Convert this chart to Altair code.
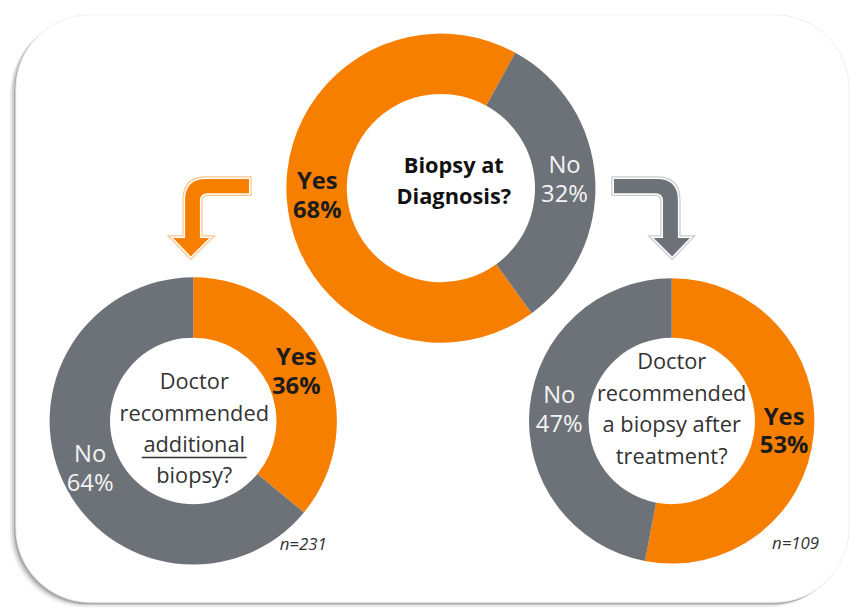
import math
import altair as alt
import pandas as pd

# ---------------- data ----------------
answers = ["Yes", "No"]
top_pct = [68, 32]      # Biopsy at diagnosis?
left_pct = [36, 64]     # Doctor recommended additional biopsy? (n=231)
right_pct = [53, 47]    # Doctor recommended a biopsy after treatment? (n=109)
questions = ["Biopsy at\nDiagnosis?",
             "Doctor\nrecommended\nadditional\nbiopsy?",
             "Doctor\nrecommended\na biopsy after\ntreatment?"]
sample_sizes = ["n=231", "n=109"]

ORANGE = "#F77F00"
GRAY = "#6D7278"
FONT = "Open Sans"

W, H = 851, 600


def one_row(**kw):
    return alt.Data(values=[kw])


def donut(pcts, cx, cy, r_out, r_in, start_deg, label_r):
    df = pd.DataFrame({"answer": answers, "pct": pcts, "ord": [0, 1]})
    df["yes_label"] = [f"{a}\n{p}%" if a == "Yes" else "" for a, p in zip(answers, pcts)]
    df["no_label"] = [f"{a}\n{p}%" if a == "No" else "" for a, p in zip(answers, pcts)]
    start = math.radians(start_deg)
    theta = alt.Theta("pct:Q", stack=True,
                      scale=alt.Scale(range=[start, start + 2 * math.pi]))
    base = alt.Chart(df).encode(theta=theta, order=alt.Order("ord:Q"),
                                x=alt.value(cx), y=alt.value(cy))
    arc = base.mark_arc(outerRadius=r_out, innerRadius=r_in).encode(
        color=alt.Color("answer:N", scale=alt.Scale(domain=answers, range=[ORANGE, GRAY]),
                        legend=None))
    yes = base.mark_text(radius=label_r, font=FONT, fontSize=24, fontWeight="bold",
                         color="#1c1c1c", lineBreak="\n", lineHeight=29, dy=-14).encode(
        text="yes_label:N", detail="answer:N")
    no = base.mark_text(radius=label_r, font=FONT, fontSize=24, fontWeight="normal",
                        color="#f4f4f4", lineBreak="\n", lineHeight=29, dy=-14).encode(
        text="no_label:N", detail="answer:N")
    return alt.layer(arc, yes, no)


# ---------------- background card ----------------
def card(dx, dy, **style):
    return alt.Chart(one_row(a=0)).mark_rect(cornerRadius=75, **style).encode(
        x=alt.value(8 + dx), x2=alt.value(849 + dx),
        y=alt.value(4 + dy), y2=alt.value(597 + dy))


shadow1 = card(-6, 5, fill="#000000", opacity=0.07)
shadow2 = card(-4, 3, fill="#000000", opacity=0.12)
shadow3 = card(-2, 2, fill="#000000", opacity=0.18)
panel = card(0, 0, fill="white", stroke="#eeeeee", strokeWidth=1)

# ---------------- arrows ----------------
ARROW_L = ("M0.952,-0.952 L0.952,-0.571 L-0.059,-0.571 Q-0.226,-0.571 -0.226,-0.404 "
           "L-0.226,0.464 L0.024,0.464 L-0.464,0.952 L-0.929,0.464 L-0.619,0.464 "
           "L-0.619,-0.428 Q-0.619,-0.952 -0.095,-0.952 Z")
ARROW_R = ("M-0.952,-0.952 L-0.952,-0.571 L0.059,-0.571 Q0.226,-0.571 0.226,-0.404 "
           "L0.226,0.464 L-0.024,0.464 L0.464,0.952 L0.929,0.464 L0.619,0.464 "
           "L0.619,-0.428 Q0.619,-0.952 0.095,-0.952 Z")


def arrow(path, cx, cy, fill, outline):
    pos = dict(x=alt.value(cx), y=alt.value(cy))
    outer = alt.Chart(one_row(a=0)).mark_point(
        shape=path, size=7056, filled=True, fill=fill, stroke=outline, strokeWidth=4,
        opacity=1, fillOpacity=1, strokeOpacity=1).encode(**pos)
    inner = alt.Chart(one_row(a=0)).mark_point(
        shape=path, size=7056, filled=True, fill=fill, stroke="white", strokeWidth=1.5,
        opacity=1, fillOpacity=1, strokeOpacity=1).encode(**pos)
    return alt.layer(outer, inner)


arrow_l = arrow(ARROW_L, 204, 209, ORANGE, "#FBC58E")
arrow_r = arrow(ARROW_R, 651, 209, GRAY, "#C9CCCF")

# ---------------- donuts ----------------
d_top = donut(top_pct, 437, 179, 156, 95, 144, 125)
d_left = donut(left_pct, 187, 414, 145, 84, 0, 115)
d_right = donut(right_pct, 670, 414, 144, 84, 0, 114)


def center_text(txt, cx, y_first, weight, color, lh):
    return alt.Chart(one_row(t=txt)).mark_text(
        font=FONT, fontSize=22, fontWeight=weight, color=color,
        lineBreak="\n", lineHeight=lh, align="center", baseline="middle").encode(
        text="t:N", x=alt.value(cx), y=alt.value(y_first))


q_top = center_text(questions[0], 450, 157, "bold", "#111111", 31)
q_left = center_text(questions[1], 188, 375, "normal", "#333333", 31.7)
q_right = center_text(questions[2], 670, 355, "normal", "#333333", 31.7)

underline = alt.Chart(one_row(a=0)).mark_rule(color="#333333", strokeWidth=1.5).encode(
    x=alt.value(135), x2=alt.value(241), y=alt.value(451))


def n_text(txt, cx, cy):
    return alt.Chart(one_row(t=txt)).mark_text(
        font=FONT, fontSize=17, fontStyle="italic", color="#333333").encode(
        text="t:N", x=alt.value(cx), y=alt.value(cy))


n_left = n_text(sample_sizes[0], 298, 539)
n_right = n_text(sample_sizes[1], 795, 538)

chart = alt.layer(
    shadow1, shadow2, shadow3, panel,
    arrow_l, arrow_r,
    d_top, d_left, d_right,
    q_top, q_left, q_right, underline, n_left, n_right,
).resolve_scale(theta="independent").properties(
    width=W, height=H, autosize="none", padding=0
).configure_view(stroke=None)

chart.save("out.html", embed_options={"renderer": "svg", "actions": False})
